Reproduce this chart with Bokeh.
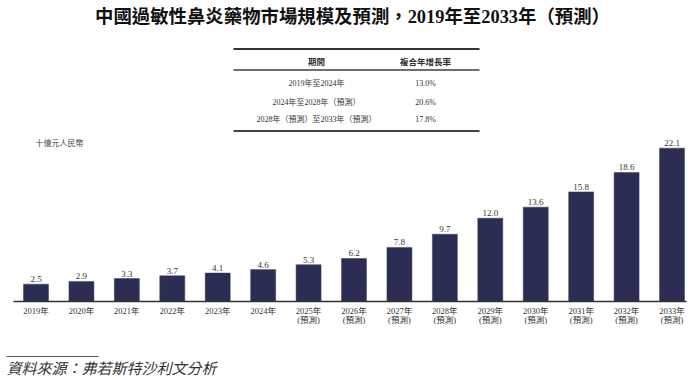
from bokeh.plotting import figure
from bokeh.models import FactorRange, Range1d, ColumnDataSource
from bokeh.transform import dodge
from bokeh.core.properties import value
from bokeh.embed import file_html
from bokeh.resources import INLINE

# ---- data ----
years = ["2019", "2020", "2021", "2022", "2023", "2024", "2025", "2026",
         "2027", "2028", "2029", "2030", "2031", "2032", "2033"]
market = [2.5, 2.9, 3.3, 3.7, 4.1, 4.6, 5.3, 6.2, 7.8, 9.7, 12.0, 13.6, 15.8, 18.6, 22.1]
forecast = [False] * 6 + [True] * 9
value_labels = ["2.5", "2.9", "3.3", "3.7", "4.1", "4.6", "5.3", "6.2", "7.8",
                "9.7", "12.0", "13.6", "15.8", "18.6", "22.1"]
cagr_periods = ["2019年至2024年", "2024年至2028年（預測）", "2028年（預測）至2033年（預測）"]
cagr_values = ["13.0%", "20.6%", "17.8%"]
title_text = "中國過敏性鼻炎藥物市場規模及預測，2019年至2033年（預測）"
unit_text = "十億元人民幣"
source_text = "資料來源：弗若斯特沙利文分析"
header_period = "期間"
header_cagr = "複合年增長率"

W, H = 700, 380
SPACING = 45.43
PAD = (W / SPACING - len(years)) / 2
UNIT = W / (len(years) + 2 * PAD)
PX_PER_Y = 6.937
BASE = 301.0  # px of baseline from top
Y_TOP = BASE / PX_PER_Y
Y_BOT = -(H - BASE) / PX_PER_Y


def sx(px):
    return px / UNIT - PAD


def sy(py):
    return Y_TOP - py / PX_PER_Y


SERIF = value("Liberation Serif, Noto Sans CJK TC")

p = figure(width=W, height=H, output_backend="svg", toolbar_location=None,
           x_range=FactorRange(factors=years, range_padding=2 * PAD / len(years),
                               range_padding_units="percent"),
           y_range=Range1d(Y_BOT, Y_TOP),
           x_axis_location=None, y_axis_location=None, min_border=0)
p.outline_line_color = None
p.grid.visible = False
p.background_fill_color = "white"

DODGE = 35.5 / UNIT - 0.5 - PAD
src = ColumnDataSource(dict(
    year=years, v=market, lbl=value_labels,
    ylbl=[y + "年" for y in years],
    flbl=["(預測)" if f else "" for f in forecast],
))
XD = dodge("year", DODGE, range=p.x_range)

p.vbar(x=XD, top="v", bottom=0, width=0.55,
       source=src, fill_color="#2b2d52", line_color="#3a3c60", line_width=0.5)

# value labels
p.text(x=XD, y="v", text="lbl", source=src,
       text_font=SERIF, text_font_size="9px", text_color="#333333",
       text_align="center", text_baseline="bottom", y_offset=-2)

# baseline
p.segment(x0=[sx(13)], y0=[0], x1=[sx(686)], y1=[0], line_color="#333333", line_width=1.5)

# category labels
p.text(x=XD, y=sy(310.5), text="ylbl", source=src,
       text_font=SERIF, text_font_size="8.5px", text_color="#333333",
       text_align="center", text_baseline="middle")
p.text(x=XD, y=sy(319.5), text="flbl", source=src,
       text_font=SERIF, text_font_size="8.5px", text_color="#333333",
       text_align="center", text_baseline="middle")

# unit label
p.text(x=[sx(35)], y=[sy(143)], text=[unit_text], text_font=SERIF,
       text_font_size="8px", text_color="#444444", text_align="left", text_baseline="middle")

# title
p.text(x=[sx(352)], y=[sy(16.5)], text=[title_text], text_font=SERIF,
       text_font_size="18.4px", text_font_style="bold", text_color="#111111",
       text_align="center", text_baseline="middle")

# CAGR table
p.segment(x0=[sx(233)], y0=[sy(48.5)], x1=[sx(479)], y1=[sy(48.5)], line_color="#333333", line_width=1.8)
p.segment(x0=[sx(233)], y0=[sy(69.5)], x1=[sx(479)], y1=[sy(69.5)], line_color="#6e6e6e", line_width=2)
p.segment(x0=[sx(233)], y0=[sy(130.5)], x1=[sx(479)], y1=[sy(130.5)], line_color="#444444", line_width=1.8)
p.text(x=[sx(316), sx(425)], y=[sy(61), sy(61)], text=[header_period, header_cagr],
       text_font=SERIF, text_font_size="8.5px", text_font_style="bold",
       text_color="#333333", text_align="center", text_baseline="middle")
row_y = [sy(83), sy(101.5), sy(119)]
p.text(x=[sx(316)] * 3, y=row_y, text=cagr_periods, text_font=SERIF,
       text_font_size="8px", text_color="#333333", text_align="center", text_baseline="middle")
p.text(x=[sx(425)] * 3, y=row_y, text=cagr_values, text_font=SERIF,
       text_font_size="8px", text_color="#333333", text_align="center", text_baseline="middle")

# source footnote
p.segment(x0=[sx(6)], y0=[sy(356)], x1=[sx(98)], y1=[sy(356)], line_color="#555555", line_width=1.2)
p.text(x=[sx(6)], y=[sy(368.5)], text=[source_text], text_font=SERIF,
       text_font_size="15px", text_font_style="italic", text_color="#333333",
       text_align="left", text_baseline="middle")

open("out.html", "w").write(file_html(p, INLINE))
